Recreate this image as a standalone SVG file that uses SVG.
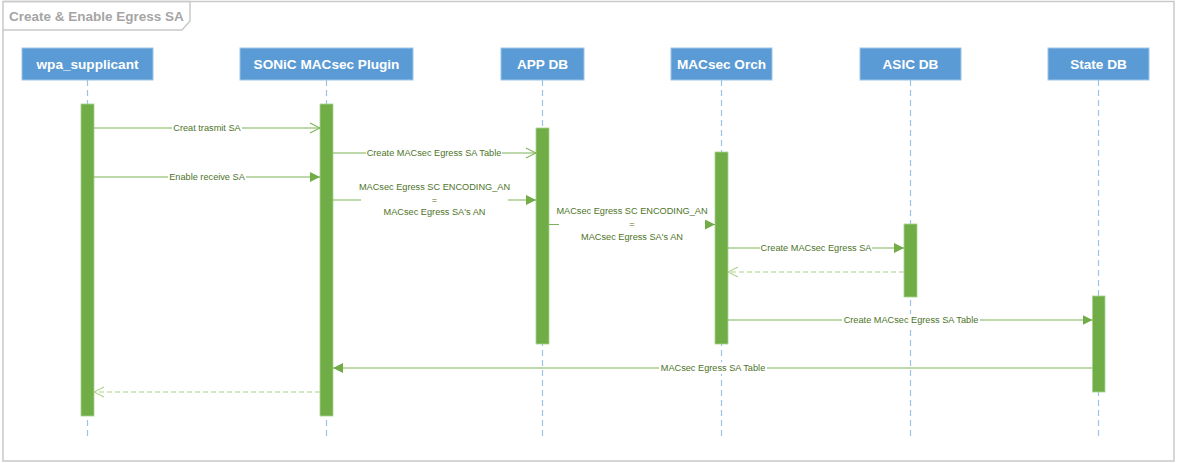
<svg xmlns="http://www.w3.org/2000/svg" width="1178" height="463" viewBox="0 0 1178 463">
<style>
.frame{fill:none;stroke:#C9C9C9;stroke-width:1.5}
.title{font-family:"Liberation Sans",Arial,sans-serif;font-weight:bold;font-size:13.5px;fill:#A5A5A5}
.hdr{fill:#5B9BD5;stroke:#9DC3E6;stroke-width:1}
.hdrt{font-family:"Liberation Sans",Arial,sans-serif;font-weight:bold;font-size:13.6px;fill:#FFFFFF;text-anchor:middle}
.life{stroke:#9DC3E6;stroke-width:1.2;stroke-dasharray:6,4;fill:none}
.act{fill:#70AD47;stroke:#A9D18E;stroke-width:0.8}
.msg{stroke:#7DB356;stroke-width:1.2;fill:none}
.ret{stroke:#A9D18E;stroke-width:1.2;stroke-dasharray:5,3;fill:none}
.lbl{font-family:"Liberation Sans",Arial,sans-serif;font-size:9.2px;fill:#4E7428;text-anchor:middle}
.bg{fill:#FFFFFF}
</style>
<defs>
<marker id="open" viewBox="0 0 12 12" refX="11" refY="6" markerWidth="12" markerHeight="12" markerUnits="userSpaceOnUse" orient="auto">
<path d="M1,1 L11,6 L1,11" fill="none" stroke="#7DB356" stroke-width="1.1"/>
</marker>
<marker id="openr" viewBox="0 0 12 12" refX="11" refY="6" markerWidth="12" markerHeight="12" markerUnits="userSpaceOnUse" orient="auto">
<path d="M1,1 L11,6 L1,11" fill="none" stroke="#A9D18E" stroke-width="1.1"/>
</marker>
<marker id="fill" viewBox="0 0 10 10" refX="10" refY="5" markerWidth="10" markerHeight="10" markerUnits="userSpaceOnUse" orient="auto">
<path d="M0,0 L10,5 L0,10 Z" fill="#70AD47"/>
</marker>
</defs>
<rect x="0" y="0" width="1178" height="463" fill="#FFFFFF"/>
<g id="frame">
<rect class="frame" x="3" y="1.5" width="1171" height="459.5"/>
<path class="frame" d="M3,1.5 L190,1.5 L190,21 L182,30 L3,30"/>
<text class="title" x="9" y="20.5">Create &amp; Enable Egress SA</text>
</g>
<g id="lifelines">
<line class="life" x1="87.5" y1="80" x2="87.5" y2="437"/>
<line class="life" x1="326.5" y1="80" x2="326.5" y2="437"/>
<line class="life" x1="542.5" y1="80" x2="542.5" y2="437"/>
<line class="life" x1="721.5" y1="80" x2="721.5" y2="437"/>
<line class="life" x1="910.5" y1="80" x2="910.5" y2="437"/>
<line class="life" x1="1098.5" y1="80" x2="1098.5" y2="437"/>
</g>
<g id="wpa_supplicant">
<rect class="hdr" x="22" y="48" width="131" height="32"/>
<text class="hdrt" x="87.5" y="69">wpa_supplicant</text>
<rect class="act" x="81" y="104" width="13" height="312"/>
</g>
<g id="sonic_plugin">
<rect class="hdr" x="240" y="48" width="173" height="32"/>
<text class="hdrt" x="326.5" y="69">SONiC MACsec Plugin</text>
<rect class="act" x="320" y="104" width="13" height="312"/>
</g>
<g id="app_db">
<rect class="hdr" x="501" y="48" width="83" height="32"/>
<text class="hdrt" x="542.5" y="69">APP DB</text>
<rect class="act" x="536" y="128" width="13" height="216"/>
</g>
<g id="macsec_orch">
<rect class="hdr" x="671" y="48" width="101" height="32"/>
<text class="hdrt" x="721.5" y="69">MACsec Orch</text>
<rect class="act" x="715" y="152" width="13" height="192"/>
</g>
<g id="asic_db">
<rect class="hdr" x="860" y="48" width="101" height="32"/>
<text class="hdrt" x="910.5" y="69">ASIC DB</text>
<rect class="act" x="904" y="224" width="13" height="73"/>
</g>
<g id="state_db">
<rect class="hdr" x="1048" y="48" width="101" height="32"/>
<text class="hdrt" x="1098.5" y="69">State DB</text>
<rect class="act" x="1092.5" y="296" width="12.5" height="96"/>
</g>
<g id="connectors">
<line class="msg" x1="94" y1="128" x2="320" y2="128" marker-end="url(#open)"/>
<line class="msg" x1="333" y1="153" x2="536" y2="153" marker-end="url(#open)"/>
<line class="msg" x1="94" y1="177" x2="320" y2="177" marker-end="url(#fill)"/>
<line class="msg" x1="333" y1="200" x2="536" y2="200" marker-end="url(#fill)"/>
<line class="msg" x1="549" y1="224.5" x2="715" y2="224.5" marker-end="url(#fill)"/>
<line class="msg" x1="728" y1="248" x2="904" y2="248" marker-end="url(#fill)"/>
<line class="ret" x1="904" y1="272" x2="728" y2="272" marker-end="url(#openr)"/>
<line class="msg" x1="728" y1="320" x2="1092.5" y2="320" marker-end="url(#fill)"/>
<line class="msg" x1="1092.5" y1="368" x2="333" y2="368" marker-end="url(#fill)"/>
<line class="ret" x1="320" y1="392" x2="94" y2="392" marker-end="url(#openr)"/>
</g>
<g id="labels">
<rect class="bg" x="172" y="122" width="70" height="12"/>
<text class="lbl" x="207" y="131.2">Creat trasmit SA</text>
<rect class="bg" x="366" y="147" width="136" height="12"/>
<text class="lbl" x="434" y="156.2">Create MACsec Egress SA Table</text>
<rect class="bg" x="168" y="171" width="78" height="12"/>
<text class="lbl" x="207" y="180.2">Enable receive SA</text>
<rect class="bg" x="361" y="181" width="147" height="38"/>
<text class="lbl" x="434.5" y="190.2">MACsec Egress SC ENCODING_AN</text>
<text class="lbl" x="434.5" y="202.5">=</text>
<text class="lbl" x="434.5" y="215">MACsec Egress SA's AN</text>
<rect class="bg" x="559" y="205" width="146" height="38"/>
<text class="lbl" x="632" y="214.2">MACsec Egress SC ENCODING_AN</text>
<text class="lbl" x="632" y="227">=</text>
<text class="lbl" x="632" y="239.5">MACsec Egress SA's AN</text>
<rect class="bg" x="760" y="242" width="112" height="12"/>
<text class="lbl" x="816" y="251.2">Create MACsec Egress SA</text>
<rect class="bg" x="842" y="314" width="138" height="12"/>
<text class="lbl" x="911" y="323.2">Create MACsec Egress SA Table</text>
<rect class="bg" x="659" y="362" width="108" height="12"/>
<text class="lbl" x="713" y="371.2">MACsec Egress SA Table</text>
</g>
</svg>
